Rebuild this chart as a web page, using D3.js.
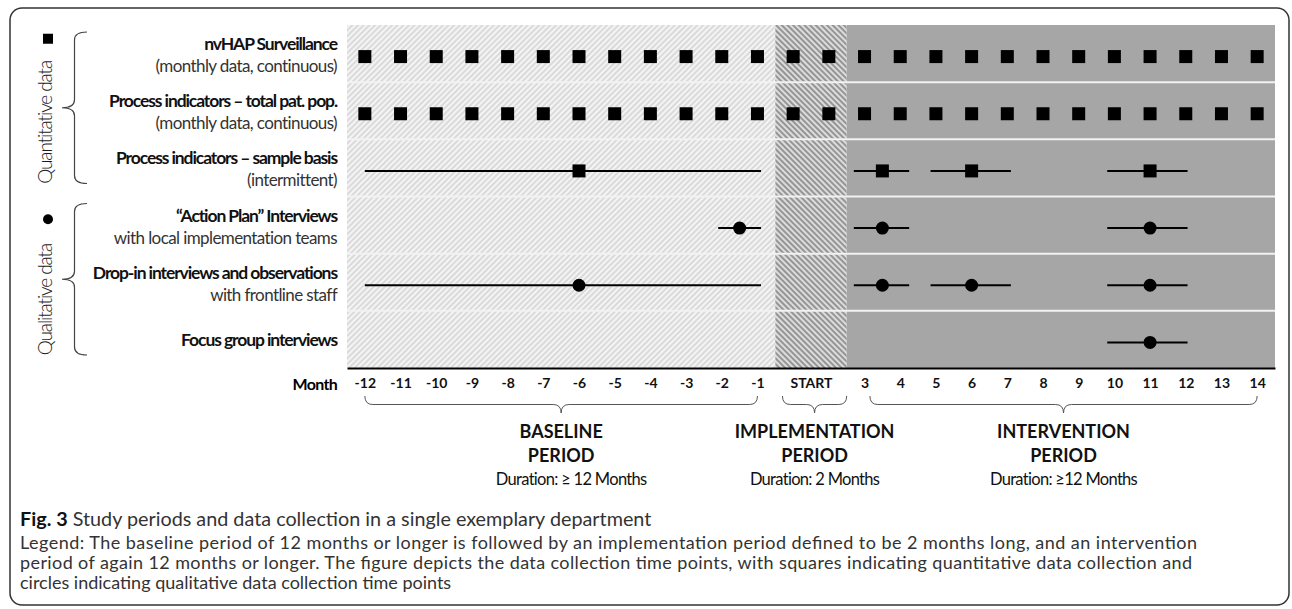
<!DOCTYPE html>
<html>
<head>
<meta charset="utf-8">
<script src="https://cdn.jsdelivr.net/npm/d3@7"></script>
<style>
  body { margin: 0; background: #fff; }
  text { font-family: Lato, "Open Sans", sans-serif; }
</style>
</head>
<body>
<div class="chart"></div>
<script>
var svgWidth = 1292;
var svgHeight = 609;

var margin = { top: 25, right: 17, bottom: 241, left: 347 };
var width = svgWidth - margin.left - margin.right;
var height = svgHeight - margin.top - margin.bottom;

// ---- data ----
var months = [-12, -11, -10, -9, -8, -7, -6, -5, -4, -3, -2, -1, 1, 2, 3, 4, 5, 6, 7, 8, 9, 10, 11, 12, 13, 14];
var tickMonths = [-12, -11, -10, -9, -8, -7, -6, -5, -4, -3, -2, -1, 1.5, 3, 4, 5, 6, 7, 8, 9, 10, 11, 12, 13, 14];
var tickLabels = ["-12", "-11", "-10", "-9", "-8", "-7", "-6", "-5", "-4", "-3", "-2", "-1", "START", "3", "4", "5", "6", "7", "8", "9", "10", "11", "12", "13", "14"];

var rowTitles = ["nvHAP Surveillance", "Process indicators \u2013 total pat. pop.", "Process indicators \u2013 sample basis",
  "\u201CAction Plan\u201D Interviews", "Drop-in interviews and observations", "Focus group interviews"];
var rowSubtitles = ["(monthly data, continuous)", "(monthly data, continuous)", "(intermittent)",
  "with local implementation teams", "with frontline staff", ""];
var rowMarker = ["square", "square", "square", "circle", "circle", "circle"];

// monthly continuous collection
var nvhapMonths = months.slice();
var processTotalMonths = months.slice();

// intermittent collection: [from, to, time point]
var sampleBasis = [[-12, -0.9, -6], [2.7, 4.25, 3.5], [4.85, 7.1, 6], [9.8, 12.05, 11]];
var actionPlan = [[-2.1, -0.9, -1.5], [2.7, 4.25, 3.5], [9.8, 12.05, 11]];
var dropIn = [[-12, -0.9, -6], [2.7, 4.25, 3.5], [4.85, 7.1, 6], [9.8, 12.05, 11]];
var focusGroup = [[9.8, 12.05, 11]];

var periodNames = ["BASELINE", "IMPLEMENTATION", "INTERVENTION"];
var periodDurations = ["Duration: \u2265 12 Months", "Duration: 2 Months", "Duration: \u226512 Months"];
var periodFirst = [-12, 1, 3];
var periodLast = [-1, 2, 14];
var braceFrom = [-12, 0.7, 3.15];
var braceTo = [-1, 2.5, 14];

var groupNames = ["Quantitative data", "Qualitative data"];
var groupFirstRow = [0, 3];
var groupLastRow = [2, 5];
var groupMarker = ["square", "circle"];

var captionLines = [
  "Legend: The baseline period of 12 months or longer is followed by an implementation period defined to be 2 months long, and an intervention",
  "period of again 12 months or longer. The figure depicts the data collection time points, with squares indicating quantitative data collection and",
  "circles indicating qualitative data collection time points"
];

// month -> slot index (START spans months 1 and 2, no month 0)
function idx(m) { return m < 0 ? m + 12 : m + 11; }

var svg = d3.select(".chart")
  .append("svg")
  .attr("width", svgWidth)
  .attr("height", svgHeight);

// hatch patterns
var defs = svg.append("defs");
var p1 = defs.append("pattern").attr("id", "hatchBase")
  .attr("patternUnits", "userSpaceOnUse").attr("width", 4).attr("height", 4)
  .attr("patternTransform", "rotate(45)");
p1.append("rect").attr("width", 4).attr("height", 4).attr("fill", "#dadada");
p1.append("rect").attr("width", 2).attr("height", 4).attr("fill", "#f4f4f4");

var p2 = defs.append("pattern").attr("id", "hatchImpl")
  .attr("patternUnits", "userSpaceOnUse").attr("width", 4).attr("height", 4)
  .attr("patternTransform", "rotate(-45)");
p2.append("rect").attr("width", 4).attr("height", 4).attr("fill", "#959595");
p2.append("rect").attr("width", 2).attr("height", 4).attr("fill", "#dcdcdc");

var periodFill = ["url(#hatchBase)", "url(#hatchImpl)", "#a6a6a6"];

// outer frame
svg.append("rect")
  .attr("x", 10).attr("y", 8)
  .attr("width", 1279).attr("height", 597)
  .attr("rx", 12)
  .attr("fill", "none")
  .attr("stroke", "#333")
  .attr("stroke-width", 1.5);

var x = d3.scaleLinear().domain([-0.5, 25.5]).range([margin.left, margin.left + width]);
var y = d3.scaleBand().domain(d3.range(6)).range([margin.top, margin.top + height]);
var yc = function(i) { return y(i) + y.bandwidth() / 2 + 3; };

// period backgrounds
svg.selectAll(".period")
  .data(periodNames)
  .enter().append("rect")
  .attr("x", function(d, i) { return x(idx(periodFirst[i]) - 0.5); })
  .attr("y", margin.top)
  .attr("width", function(d, i) { return x(idx(periodLast[i]) + 0.5) - x(idx(periodFirst[i]) - 0.5); })
  .attr("height", height)
  .attr("fill", function(d, i) { return periodFill[i]; });

// row separators
svg.selectAll(".sep")
  .data(d3.range(1, 6))
  .enter().append("line")
  .attr("x1", margin.left).attr("x2", margin.left + width)
  .attr("y1", function(d) { return y(d); }).attr("y2", function(d) { return y(d); })
  .attr("stroke", "#f2f2f2")
  .attr("stroke-width", 2);

// axis
var axis = d3.axisBottom(x)
  .tickValues(tickMonths.map(idx))
  .tickFormat(function(d, i) { return tickLabels[i]; })
  .tickSize(0)
  .tickSizeOuter(0)
  .tickPadding(10);

var gx = svg.append("g")
  .attr("transform", "translate(0," + (margin.top + height) + ")")
  .call(axis);
gx.select(".domain").attr("stroke", "#000").attr("stroke-width", 2);
gx.selectAll("text")
  .attr("font-family", "Lato, sans-serif")
  .attr("font-size", 14)
  .attr("font-weight", "bold")
  .attr("fill", "#111");

svg.append("text")
  .attr("x", 337).attr("y", 390)
  .attr("text-anchor", "end")
  .attr("font-size", 16)
  .attr("font-weight", "bold")
  .attr("letter-spacing", -0.7)
  .text("Month");

// marker drawing
function drawMarker(g, kind, cx, cy, size) {
  if (kind === "square") {
    g.append("rect")
      .attr("x", cx - size / 2).attr("y", cy - size / 2)
      .attr("width", size).attr("height", size)
      .attr("fill", "#000");
  } else {
    g.append("circle")
      .attr("cx", cx).attr("cy", cy).attr("r", size / 2)
      .attr("fill", "#000");
  }
}

var marks = svg.append("g");

// continuous monthly rows
[nvhapMonths, processTotalMonths].forEach(function(list, r) {
  list.forEach(function(m) {
    drawMarker(marks, rowMarker[r], x(idx(m)), yc(r), 13);
  });
});

// intermittent rows
[[2, sampleBasis], [3, actionPlan], [4, dropIn], [5, focusGroup]].forEach(function(pair) {
  var r = pair[0];
  pair[1].forEach(function(s) {
    marks.append("line")
      .attr("x1", x(idx(s[0]))).attr("x2", x(idx(s[1])))
      .attr("y1", yc(r)).attr("y2", yc(r))
      .attr("stroke", "#000")
      .attr("stroke-width", 2);
    drawMarker(marks, rowMarker[r], x(idx(s[2])), yc(r), 13);
  });
});

// row labels
rowTitles.forEach(function(t, i) {
  var hasSub = rowSubtitles[i] !== "";
  svg.append("text")
    .attr("x", 337)
    .attr("y", y(i) + (hasSub ? 25 : 35))
    .attr("text-anchor", "end")
    .attr("font-size", 17.5)
    .attr("font-weight", "bold")
    .attr("letter-spacing", -1.1)
    .attr("fill", "#111")
    .text(t);
  if (hasSub) {
    svg.append("text")
      .attr("x", 337)
      .attr("y", y(i) + 47)
      .attr("text-anchor", "end")
      .attr("font-size", 17)
      .attr("letter-spacing", -0.6)
      .attr("fill", "#333")
      .text(rowSubtitles[i]);
  }
});

// vertical braces and group labels
var markerShift = [-69, -60];
groupNames.forEach(function(name, i) {
  var y1 = y(groupFirstRow[i]) + 7;
  var y2 = y(groupLastRow[i]) + y.bandwidth() - 13;
  var mid = (y1 + y2) / 2;
  var x0 = 87, w = 25, r = 8;
  var p = d3.path();
  p.moveTo(x0, y1);
  p.quadraticCurveTo(x0 - w / 2, y1, x0 - w / 2, y1 + r);
  p.lineTo(x0 - w / 2, mid - r);
  p.quadraticCurveTo(x0 - w / 2, mid, x0 - w, mid);
  p.quadraticCurveTo(x0 - w / 2, mid, x0 - w / 2, mid + r);
  p.lineTo(x0 - w / 2, y2 - r);
  p.quadraticCurveTo(x0 - w / 2, y2, x0, y2);
  svg.append("path").attr("d", p.toString())
    .attr("fill", "none").attr("stroke", "#444").attr("stroke-width", 1.2);

  svg.append("text")
    .attr("transform", "translate(52," + (mid + 76) + ") rotate(-90)")
    .attr("font-size", 19)
    .attr("font-weight", 300)
    .attr("letter-spacing", -1.1)
    .attr("fill", "#1a1a1a")
    .text(name);
  drawMarker(svg, groupMarker[i], 48, mid + markerShift[i], 10);
});

// horizontal braces + period texts
periodNames.forEach(function(name, i) {
  var x1 = x(idx(braceFrom[i])), x2 = x(idx(braceTo[i]));
  var mid = (x1 + x2) / 2, y0 = 396, h = 17, r = 8;
  var p = d3.path();
  p.moveTo(x1, y0);
  p.quadraticCurveTo(x1, y0 + h / 2, x1 + r, y0 + h / 2);
  p.lineTo(mid - r, y0 + h / 2);
  p.quadraticCurveTo(mid, y0 + h / 2, mid, y0 + h);
  p.quadraticCurveTo(mid, y0 + h / 2, mid + r, y0 + h / 2);
  p.lineTo(x2 - r, y0 + h / 2);
  p.quadraticCurveTo(x2, y0 + h / 2, x2, y0);
  svg.append("path").attr("d", p.toString())
    .attr("fill", "none").attr("stroke", "#555").attr("stroke-width", 1);

  svg.append("text").attr("x", mid).attr("y", 438)
    .attr("text-anchor", "middle").attr("font-size", 18).attr("font-weight", "bold")
    .attr("fill", "#111").text(name);
  svg.append("text").attr("x", mid).attr("y", 462)
    .attr("text-anchor", "middle").attr("font-size", 18).attr("font-weight", "bold")
    .attr("fill", "#111").text("PERIOD");
  svg.append("text").attr("x", mid + (i === 0 ? 10 : 0)).attr("y", 485)
    .attr("text-anchor", "middle").attr("font-size", 16.5)
    .attr("letter-spacing", -0.7)
    .attr("fill", "#111").text(periodDurations[i]);
});

// caption
var cap = svg.append("text").attr("x", 20).attr("y", 526)
  .attr("font-size", 19.8).attr("fill", "#333");
cap.append("tspan").attr("font-weight", "bold").attr("fill", "#111").text("Fig. 3");
cap.append("tspan").text(" Study periods and data collection in a single exemplary department");

captionLines.forEach(function(line, i) {
  var t = svg.append("text")
    .attr("x", 20).attr("y", 549 + i * 20)
    .attr("font-size", 18).attr("fill", "#333")
    .text(line);
  if (i < 2) t.attr("textLength", i === 0 ? 1177 : 1172).attr("lengthAdjust", "spacing");
});
</script>
</body>
</html>
